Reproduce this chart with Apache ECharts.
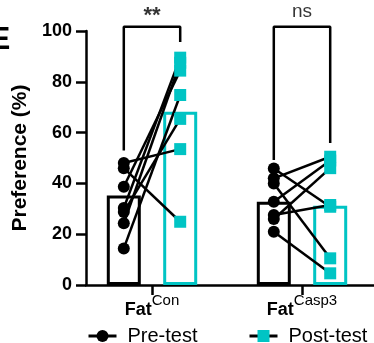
<!DOCTYPE html>
<html>
<head>
<meta charset="utf-8">
<script src="https://cdn.jsdelivr.net/npm/echarts@6/dist/echarts.min.js"></script>
<style>
  html, body { margin: 0; padding: 0; background: #fff; }
  #chart { width: 374px; height: 343px; }
</style>
</head>
<body>
<div id="chart"></div>
<script>
// groups on the x axis (value axis, groups placed at groupX)
const groups = ['Con', 'Casp3'];
const groupX = [1.1, 3.6];

// paired values, one entry per animal
const preCon = [48, 46, 38.7, 30.3, 28.7, 24.3, 14.4];
const postCon = [53.5, 24.9, 84.4, 89.5, 65.4, 87.5, 74.8];
const preCasp3 = [45.9, 42, 40, 32.8, 27.6, 26, 21];
const postCasp3 = [30.8, 50.5, 10.5, 49, 31.5, 46, 4.6];

// bar heights (group means)
const meanPre = [35.2, 32.8];
const meanPost = [68.2, 31.2];

// significance brackets
const sigLabels = ['**', 'ns'];
const bracketTop = 101.7;
const bracketLeftEnd = [53, 49.2];
const bracketRightEnd = [95.7, 55.9];

const teal = '#00c4c4';
const font = 'Liberation Sans, Arial, sans-serif';
const off = 0.47;

const pre = [preCon, preCasp3];
const post = [postCon, postCasp3];

const series = [];

// hollow bars
const barData = [];
groups.forEach((g, i) => {
  barData.push({ value: [groupX[i] - off, meanPre[i]], itemStyle: { borderColor: '#000' } });
  barData.push({ value: [groupX[i] + off, meanPost[i]], itemStyle: { borderColor: teal } });
});
series.push({
  type: 'bar',
  data: barData,
  barWidth: 34,
  itemStyle: { color: 'rgba(255,255,255,0)', borderWidth: 3 },
  z: 1,
  silent: true
});

// lines joining each pair
groups.forEach((g, i) => {
  pre[i].forEach((v, k) => {
    series.push({
      type: 'line',
      data: [[groupX[i] - off, v], [groupX[i] + off, post[i][k]]],
      symbol: 'none',
      lineStyle: { color: '#000', width: 2.5 },
      z: 3,
      silent: true
    });
  });
});

// markers
const preData = [];
const postData = [];
groups.forEach((g, i) => {
  pre[i].forEach(v => preData.push([groupX[i] - off, v]));
  post[i].forEach(v => postData.push([groupX[i] + off, v]));
});
series.push({
  name: 'Pre-test',
  type: 'line',
  data: preData,
  symbol: 'circle',
  symbolSize: 12,
  showAllSymbol: true,
  itemStyle: { color: '#000' },
  lineStyle: { width: 0, opacity: 0 },
  z: 5
});
series.push({
  name: 'Post-test',
  type: 'line',
  data: postData,
  symbol: 'rect',
  symbolSize: 12,
  showAllSymbol: true,
  itemStyle: { color: teal },
  lineStyle: { width: 0, opacity: 0 },
  z: 5
});

// brackets
groups.forEach((g, i) => {
  series.push({
    type: 'line',
    data: [
      [groupX[i] - off, bracketLeftEnd[i]],
      [groupX[i] - off, bracketTop],
      [groupX[i] + off, bracketTop],
      [groupX[i] + off, bracketRightEnd[i]]
    ],
    symbol: 'none',
    clip: false,
    lineStyle: { color: '#000', width: 2.5 },
    z: 2,
    silent: true
  });
});
series.push({
  type: 'scatter',
  symbolSize: 0,
  clip: false,
  silent: true,
  data: groupX.map((x, i) => ({
    value: [x, bracketTop],
    label: i === 0
      ? { fontSize: 22, fontWeight: 'bold', distance: 0 }
      : { fontSize: 19, fontWeight: 'normal', distance: 5 }
  })),
  label: {
    show: true,
    position: 'top',
    color: '#000',
    fontFamily: font,
    formatter: p => sigLabels[p.dataIndex]
  }
});

const legendBase = {
  top: 321,
  itemWidth: 28,
  itemHeight: 15,
  lineStyle: { color: '#000', width: 3, opacity: 1 },
  textStyle: { fontSize: 20, fontFamily: font, color: '#000', padding: [0, 0, 0, 6] }
};

const myChart = echarts.init(document.getElementById('chart'));
const option = {
  animation: false,
  grid: { left: 86, right: 0, top: 31, bottom: 58 },
  graphic: [{
    type: 'text',
    left: -11,
    top: 24,
    style: { text: 'E', font: 'bold 32px ' + font, fill: '#000' }
  }],
  legend: [
    Object.assign({ data: ['Pre-test'], left: 82 }, legendBase),
    Object.assign({ data: ['Post-test'], left: 243 }, legendBase)
  ],
  xAxis: {
    type: 'value',
    min: 0,
    max: 4.8,
    splitLine: { show: false },
    axisLine: { lineStyle: { color: '#000', width: 2.5 } },
    axisTick: { show: true, length: 10, lineStyle: { color: '#000', width: 2.5 }, customValues: groupX },
    axisLabel: {
      customValues: groupX,
      margin: 8,
      formatter: v => {
        const i = groupX.indexOf(v);
        return '{b|Fat}{s|' + groups[i] + '}';
      },
      rich: {
        b: { fontSize: 18, fontWeight: 'bold', fontFamily: font, color: '#000', lineHeight: 26, verticalAlign: 'bottom' },
        s: { fontSize: 15, fontFamily: font, color: '#000', verticalAlign: 'top' }
      }
    }
  },
  yAxis: {
    type: 'value',
    min: 0,
    max: 100,
    interval: 20,
    name: 'Preference (%)',
    nameLocation: 'middle',
    nameGap: 49,
    nameTextStyle: { fontSize: 21, fontWeight: 'bold', fontFamily: font, color: '#000' },
    splitLine: { show: false },
    axisLine: { show: true, lineStyle: { color: '#000', width: 2.5 } },
    axisTick: { show: true, length: 10, lineStyle: { color: '#000', width: 2.5 } },
    axisLabel: { fontSize: 18, fontWeight: 'bold', fontFamily: font, color: '#000', margin: 14 }
  },
  series: series
};
myChart.setOption(option);
</script>
</body>
</html>
